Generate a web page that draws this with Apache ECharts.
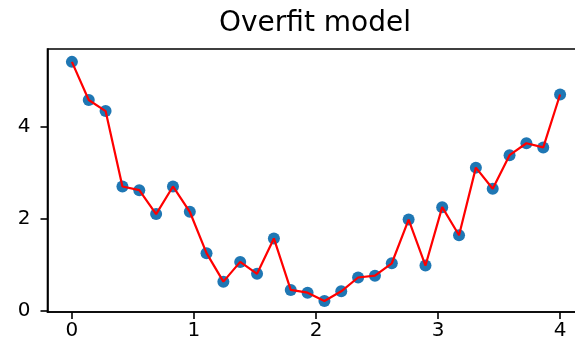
<!DOCTYPE html>
<html>
<head>
<meta charset="utf-8">
<script src="https://cdn.jsdelivr.net/npm/echarts@6/dist/echarts.min.js"></script>
<style>
  html, body { margin: 0; padding: 0; background: #fff; }
  #chart { width: 575px; height: 349px; }
</style>
</head>
<body>
<div id="chart"></div>
<script>
// Sample positions along x (30 evenly spaced samples on [0, 4])
const xValues = [0.000, 0.138, 0.276, 0.414, 0.552, 0.690, 0.828, 0.966, 1.103, 1.241,
                 1.379, 1.517, 1.655, 1.793, 1.931, 2.069, 2.207, 2.345, 2.483, 2.621,
                 2.759, 2.897, 3.034, 3.172, 3.310, 3.448, 3.586, 3.724, 3.862, 4.000];
// Observed noisy values
const yValues = [5.42, 4.59, 4.35, 2.71, 2.63, 2.11, 2.71, 2.16, 1.26, 0.64,
                 1.07, 0.81, 1.58, 0.46, 0.40, 0.22, 0.43, 0.73, 0.77, 1.04,
                 1.99, 0.99, 2.26, 1.65, 3.12, 2.66, 3.39, 3.65, 3.56, 4.71];
const xTicks = [0, 1, 2, 3, 4];
const yTicks = [0, 2, 4];
const titleText = 'Overfit model';

const points = xValues.map((x, i) => [x, yValues[i]]);
const font = 'DejaVu Sans';

const chart = echarts.init(document.getElementById('chart'), null, { renderer: 'canvas' });
chart.setOption({
  animation: false,
  backgroundColor: '#ffffff',
  title: {
    text: titleText,
    left: 310,
    top: 5,
    textAlign: 'center',
    textStyle: { fontFamily: font, fontSize: 28, fontWeight: 'normal', color: '#000' }
  },
  grid: {
    left: 47.5, top: 49, width: 537, height: 263,
    containLabel: false,
    outerBoundsMode: 'none',
    show: true, borderColor: '#000', borderWidth: 1.6, backgroundColor: 'transparent'
  },
  xAxis: {
    type: 'value', min: -0.2, max: 4.2,
    axisLine: { show: true, onZero: false, lineStyle: { color: '#000', width: 1.6 } },
    axisTick: { show: true, length: 7, lineStyle: { color: '#000', width: 1.6 }, customValues: xTicks },
    axisLabel: { customValues: xTicks, margin: 9, fontFamily: font, fontSize: 20, color: '#000' },
    splitLine: { show: false }
  },
  yAxis: {
    type: 'value', min: -0.02, max: 5.70,
    axisLine: { show: true, onZero: false, lineStyle: { color: '#000', width: 1.6 } },
    axisTick: { show: true, length: 7, lineStyle: { color: '#000', width: 1.6 }, customValues: yTicks },
    axisLabel: { customValues: yTicks, margin: 17, fontFamily: font, fontSize: 20, color: '#000' },
    splitLine: { show: false }
  },
  series: [
    {
      type: 'scatter',
      data: points,
      symbol: 'circle',
      symbolSize: 12,
      itemStyle: { color: '#1f77b4', opacity: 1 },
      z: 2
    },
    {
      type: 'line',
      data: points,
      showSymbol: false,
      symbol: 'none',
      lineStyle: { color: '#ff0000', width: 2.2 },
      z: 3
    }
  ]
});
</script>
</body>
</html>
